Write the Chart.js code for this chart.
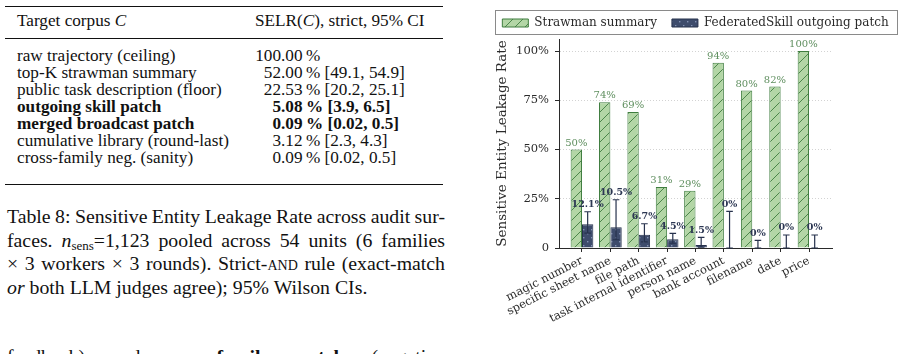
<!DOCTYPE html>
<html>
<head>
<meta charset="utf-8">
<script src="https://cdn.jsdelivr.net/npm/chart.js@4.4.1/dist/chart.umd.min.js"></script>
<style>
html, body { margin: 0; padding: 0; background: #fff; }
body { width: 907px; height: 354px; position: relative; overflow: hidden;
       font-family: "Liberation Serif", "Times New Roman", serif; color: #111; }
.rule { position: absolute; left: 5px; width: 438px; background: #111; }
.row { position: absolute; left: 0; width: 450px; height: 17px; line-height: 17px; font-size: 17.2px; white-space: nowrap; }
.c1 { position: absolute; left: 17px; }
.c2 { position: absolute; left: 250px; }
.int { display: inline-block; width: 31px; text-align: right; }
.cap { position: absolute; left: 7px; width: 438px; font-size: 19.8px; line-height: 23.5px; }
.cap div { text-align: justify; text-align-last: justify; word-spacing: -2px; }
.cap div.last { text-align: left; text-align-last: left; word-spacing: 0; }
.cap sub { font-size: 13px; line-height: 0; vertical-align: -3px; }
#wrap { position: absolute; left: 482px; top: 0; width: 427px; height: 354px; }
.preload { position: absolute; left: -200px; top: 0; font-family: "DejaVu Serif"; }
</style>
</head>
<body>

<div class="rule" style="top:6px;height:1.3px"></div>
<div class="row" style="top:12.2px"><span class="c1">Target corpus <i>C</i></span><span class="c2" style="left:255px">SELR(<i>C</i>), strict, 95% CI</span></div>
<div class="rule" style="top:37.9px;height:0.8px"></div>
<div class="row" style="top:46.5px"><span class="c1">raw trajectory (ceiling)</span><span class="c2"><span class="int">100</span>.00&#8201;%</span></div>
<div class="row" style="top:63.5px"><span class="c1">top-K strawman summary</span><span class="c2"><span class="int">52</span>.00&#8201;% [49.1, 54.9]</span></div>
<div class="row" style="top:80.5px"><span class="c1">public task description (floor)</span><span class="c2"><span class="int">22</span>.53&#8201;% [20.2, 25.1]</span></div>
<div class="row" style="top:97.5px"><b class="c1">outgoing skill patch</b><b class="c2"><span class="int">5</span>.08&#8201;% [3.9, 6.5]</b></div>
<div class="row" style="top:114.5px"><b class="c1">merged broadcast patch</b><b class="c2"><span class="int">0</span>.09&#8201;% [0.02, 0.5]</b></div>
<div class="row" style="top:131.5px"><span class="c1">cumulative library (round-last)</span><span class="c2"><span class="int">3</span>.12&#8201;% [2.3, 4.3]</span></div>
<div class="row" style="top:148.5px"><span class="c1">cross-family neg. (sanity)</span><span class="c2"><span class="int">0</span>.09&#8201;% [0.02, 0.5]</span></div>
<div class="rule" style="top:183.6px;height:1.3px"></div>

<div class="cap" style="top:205px">
  <div>Table 8: Sensitive Entity Leakage Rate across audit sur-</div>
  <div>faces. <i>n</i><sub>sens</sub>=1,123 pooled across 54 units (6 families</div>
  <div>&times; 3 workers &times; 3 rounds). Strict-<span style="font-variant:small-caps">and</span> rule (exact-match</div>
  <div class="last"><i>or</i> both LLM judges agree); 95% Wilson CIs.</div>
</div>
<div class="cap" style="top:345px">
  <div>feedback) and <b>cross-family patch</b> (negative</div>
</div>

<div class="preload">Aa <b>Aa</b></div>
<div id="wrap"><canvas id="chart" width="427" height="354"></canvas></div>

<script>
// data
const categories = ["magic number", "specific sheet name", "file path", "task internal identifier",
    "person name", "bank account", "filename", "date", "price"];
const strawman = [50, 74, 69, 31, 29, 94, 80, 82, 100];
const strawmanLabels = ["50%", "74%", "69%", "31%", "29%", "94%", "80%", "82%", "100%"];
const outgoing = [12.1, 10.5, 6.7, 4.5, 1.5, 0, 0, 0, 0];
const outgoingLabels = ["12.1%", "10.5%", "6.7%", "4.5%", "1.5%", "0%", "0%", "0%", "0%"];
const outgoingLow = [7.6, 4.2, 3.1, 2.4, 0.4, 0, 0, 0, 0];
const outgoingHigh = [18.4, 24.5, 12.3, 7.4, 5.4, 18.6, 3.9, 6.6, 6.6];
const yTicks = [0, 25, 50, 75, 100];
const yTickLabels = ["0", "25%", "50%", "75%", "100%"];

const GREEN_FILL = "#b3d6a6", GREEN_EDGE = "#3f7d3f", GREEN_TEXT = "#5e8e5e";
const NAVY_FILL = "#3e4c6c", NAVY_EDGE = "#27324d", NAVY_TEXT = "#2c3753";
const INK = "#2a2a2a";
const FONT = "'DejaVu Serif', serif";

Chart.defaults.font.family = FONT;
Chart.defaults.color = INK;

function hatch() {
    const c = document.createElement("canvas");
    c.width = c.height = 10;
    const g = c.getContext("2d");
    g.fillStyle = GREEN_FILL;
    g.fillRect(0, 0, 10, 10);
    g.strokeStyle = GREEN_EDGE;
    g.lineWidth = 0.9;
    g.beginPath();
    g.moveTo(-1, 11); g.lineTo(11, -1);
    g.moveTo(-6, 6); g.lineTo(6, -6);
    g.moveTo(4, 16); g.lineTo(16, 4);
    g.stroke();
    return g.createPattern(c, "repeat");
}

function dots() {
    const c = document.createElement("canvas");
    c.width = c.height = 8;
    const g = c.getContext("2d");
    g.fillStyle = NAVY_FILL;
    g.fillRect(0, 0, 8, 8);
    g.fillStyle = "#8391b3";
    g.fillRect(1, 1, 1.4, 1.4);
    g.fillRect(5, 5, 1.4, 1.4);
    return g.createPattern(c, "repeat");
}

// error bars + value labels + legend frame
const annotate = {
    id: "annotate",
    afterDatasetsDraw(chart) {
        const ctx = chart.ctx, y = chart.scales.y;
        const m0 = chart.getDatasetMeta(0), m1 = chart.getDatasetMeta(1);
        ctx.save();
        ctx.strokeStyle = NAVY_EDGE;
        ctx.lineWidth = 1.2;
        outgoingHigh.forEach((hi, i) => {
            const x = m1.data[i].x;
            const yh = y.getPixelForValue(hi), yl = y.getPixelForValue(outgoingLow[i]);
            ctx.beginPath();
            ctx.moveTo(x, yl); ctx.lineTo(x, yh);
            ctx.moveTo(x - 3.3, yh); ctx.lineTo(x + 3.3, yh);
            ctx.moveTo(x - 3.3, yl); ctx.lineTo(x + 3.3, yl);
            ctx.stroke();
        });
        ctx.textAlign = "center";
        ctx.textBaseline = "bottom";
        ctx.font = "10px " + FONT;
        ctx.fillStyle = GREEN_TEXT;
        strawmanLabels.forEach((t, i) => ctx.fillText(t, m0.data[i].x, m0.data[i].y - 1.5));
        ctx.font = "bold 9.5px " + FONT;
        ctx.fillStyle = NAVY_TEXT;
        outgoingLabels.forEach((t, i) => ctx.fillText(t, m1.data[i].x, y.getPixelForValue(outgoingHigh[i]) - 2.5));
        ctx.restore();
    },
    afterDraw(chart) {
        const hb = chart.legend.legendHitBoxes;
        if (!hb || !hb.length) return;
        const last = hb[hb.length - 1];
        const cy = hb[0].top + hb[0].height / 2;
        const x0 = Math.round(hb[0].left - 7);
        const ctx = chart.ctx;
        ctx.save();
        ctx.strokeStyle = "#8a8a8a";
        ctx.lineWidth = 1;
        ctx.strokeRect(x0 + 0.5, Math.round(cy - 13) + 0.5, Math.round(last.left + last.width + 8) - x0, 24);
        ctx.restore();
    }
};

function draw() {
    new Chart(document.getElementById("chart"), {
        type: "bar",
        data: {
            datasets: [{
                label: "Strawman summary",
                data: strawman.map((v, i) => ({x: i, y: v})),
                backgroundColor: hatch(),
                borderColor: GREEN_EDGE,
                borderWidth: 1
            }, {
                label: "FederatedSkill outgoing patch",
                data: outgoing.map((v, i) => ({x: i, y: v})),
                backgroundColor: dots(),
                borderColor: NAVY_EDGE,
                borderWidth: 1
            }]
        },
        options: {
            responsive: false,
            animation: false,
            categoryPercentage: 0.8,
            barPercentage: 1.0,
            layout: {padding: {top: 2, left: 0, right: 0, bottom: 0}},
            scales: {
                x: {
                    type: "linear",
                    offset: false,
                    min: -0.81,
                    max: 8.81,
                    afterBuildTicks: s => { s.ticks = categories.map((c, i) => ({value: i})); },
                    afterFit: s => { s.height = 106; s.paddingLeft = 0; s.paddingRight = 0; },
                    ticks: {
                        callback: v => categories[v],
                        autoSkip: false,
                        minRotation: 27,
                        maxRotation: 27,
                        padding: 2,
                        font: {family: FONT, size: 11.5},
                        color: INK
                    },
                    grid: {offset: false, drawOnChartArea: false, drawTicks: true, tickLength: 4, tickColor: INK, tickWidth: 1},
                    border: {display: true, color: INK, width: 1}
                },
                y: {
                    min: 0,
                    max: 106.1,
                    afterBuildTicks: s => { s.ticks = yTicks.map(v => ({value: v})); },
                    afterFit: s => { s.width = 77; s.paddingTop = 0; s.paddingBottom = 0; },
                    ticks: {
                        callback: v => yTickLabels[yTicks.indexOf(v)],
                        padding: 6,
                        font: {family: FONT, size: 11.5},
                        color: INK
                    },
                    grid: {color: "#c8c8c8", lineWidth: 0.8, tickLength: 4, tickColor: INK, tickWidth: 1, tickBorderDash: []},
                    border: {display: true, color: INK, width: 1, dash: [1, 2]},
                    title: {display: true, text: "Sensitive Entity Leakage Rate", font: {family: FONT, size: 13.5}, color: INK, padding: {top: 12, bottom: 0}}
                },
                yR: {
                    position: "right",
                    display: true,
                    afterFit: s => { s.width = 77; },
                    ticks: {display: false},
                    grid: {display: false},
                    border: {display: false}
                }
            },
            plugins: {
                legend: {
                    display: true,
                    position: "top",
                    labels: {
                        boxWidth: 26,
                        boxHeight: 8,
                        padding: 15,
                        font: {family: FONT, size: 12},
                        color: INK
                    }
                },
                tooltip: {enabled: false}
            }
        },
        plugins: [annotate]
    });
}

Promise.all([
    document.fonts.load("11.5px 'DejaVu Serif'"),
    document.fonts.load("bold 9.5px 'DejaVu Serif'")
]).then(draw, draw);
</script>
</body>
</html>
